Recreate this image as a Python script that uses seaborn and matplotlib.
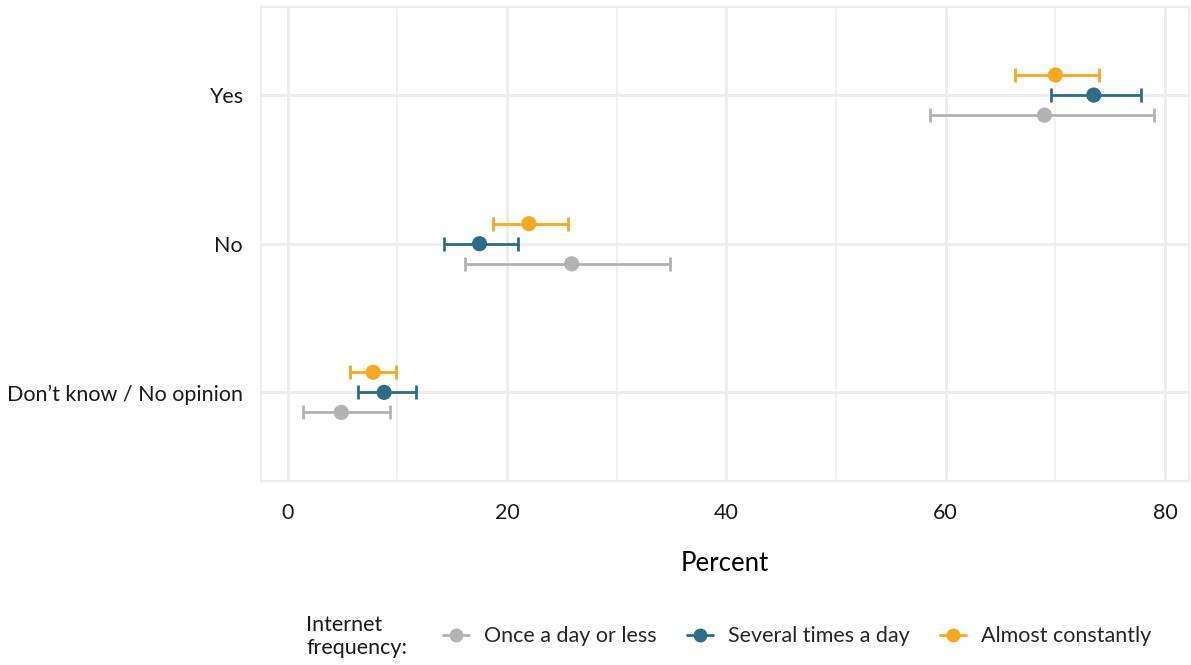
import matplotlib
matplotlib.use("Agg")
import matplotlib.pyplot as plt
from matplotlib.lines import Line2D
import seaborn as sns
import pandas as pd

CATEGORIES = ["Yes", "No", "Don\u2019t know / No opinion"]
GROUPS = ["Once a day or less", "Several times a day", "Almost constantly"]
GROUP_COLORS = {
    "Once a day or less": "#B3B3B3",
    "Several times a day": "#2C6E8A",
    "Almost constantly": "#F7A81E",
}
# vertical dodge of each group inside a category (fraction of a category step)
GROUP_OFFSETS = {
    "Once a day or less": 0.135,
    "Several times a day": 0.0,
    "Almost constantly": -0.135,
}

# estimates and interval bounds, per category (Yes, No, Don't know)
once_est = [69.0, 25.9, 4.9]
once_low = [58.6, 16.2, 1.4]
once_high = [79.0, 34.9, 9.3]

several_est = [73.5, 17.5, 8.8]
several_low = [69.6, 14.3, 6.4]
several_high = [77.8, 21.0, 11.7]

almost_est = [70.0, 22.0, 7.8]
almost_low = [66.3, 18.7, 5.7]
almost_high = [74.0, 25.6, 9.9]

X_TICKS = [0, 20, 40, 60, 80]
X_MINOR = [10, 30, 50, 70]

rows = []
for group, est, low, high in [
    (GROUPS[0], once_est, once_low, once_high),
    (GROUPS[1], several_est, several_low, several_high),
    (GROUPS[2], almost_est, almost_low, almost_high),
]:
    for i, cat in enumerate(CATEGORIES):
        rows.append(
            {"category": cat, "group": group, "est": est[i], "low": low[i],
             "high": high[i], "ypos": i + GROUP_OFFSETS[group]}
        )
df = pd.DataFrame(rows)

sns.set_theme(style="white")
plt.rcParams["font.family"] = ["Lato", "DejaVu Sans"]

fig = plt.figure(figsize=(11.91, 6.65), dpi=100)
ax = fig.add_axes([0.219, 0.277, 0.7795, 0.713])

grid_color = "#EDEDED"
for x in X_TICKS:
    ax.axvline(x, color=grid_color, lw=2.0, zorder=0)
for x in X_MINOR:
    ax.axvline(x, color=grid_color, lw=1.1, zorder=0)
for i in range(len(CATEGORIES)):
    ax.axhline(i, color=grid_color, lw=2.0, zorder=0)

for group in GROUPS:
    sub = df[df["group"] == group]
    ax.errorbar(
        x=sub["est"], y=sub["ypos"],
        xerr=[sub["est"] - sub["low"], sub["high"] - sub["est"]],
        fmt="none", ecolor=GROUP_COLORS[group], elinewidth=2.0,
        capsize=5.0, capthick=2.0, zorder=2,
    )

sns.scatterplot(
    data=df, x="est", y="ypos", hue="group", hue_order=GROUPS,
    palette=GROUP_COLORS, s=120, edgecolor="none", legend=False, ax=ax, zorder=3,
)

ax.set_xlim(-2.44, 82.2)
ax.set_ylim(2.595, -0.595)
ax.set_xticks(X_TICKS)
ax.set_yticks(range(len(CATEGORIES)))
ax.set_yticklabels(CATEGORIES)
ax.tick_params(axis="both", length=0, labelsize=15.5, colors="#1A1A1A")
ax.tick_params(axis="x", pad=16)
ax.tick_params(axis="y", pad=13)
ax.set_xlabel("Percent", fontsize=18.5, labelpad=20, color="#000000")
ax.set_ylabel("")
for spine in ax.spines.values():
    spine.set_color(grid_color)
    spine.set_linewidth(1.6)

handles = [
    Line2D([0], [0], color=GROUP_COLORS[g], lw=2.0, marker="o", markersize=9)
    for g in GROUPS
]
fig.legend(
    handles, GROUPS, loc="center left", bbox_to_anchor=(0.356, 0.043),
    ncol=3, frameon=False, fontsize=15.5, handlelength=1.2, handletextpad=0.7,
    columnspacing=1.4,
)
fig.text(0.257, 0.043, "Internet\nfrequency:", fontsize=15.5, va="center",
         ha="left", linespacing=1.15, color="#1A1A1A")

fig.savefig("out.png", dpi=100)
